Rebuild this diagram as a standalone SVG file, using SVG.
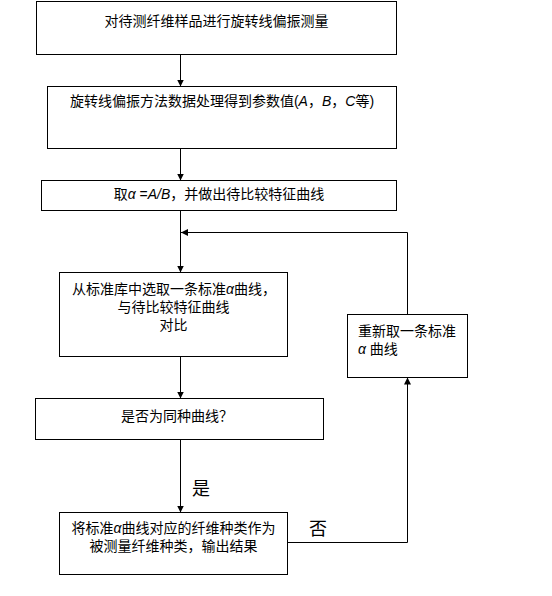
<svg xmlns="http://www.w3.org/2000/svg" width="552" height="596" viewBox="0 0 552 596">
<style>
.box{fill:#fff;stroke:#000;stroke-width:1}
.ln{fill:none;stroke:#000;stroke-width:1}
text{font-family:"Liberation Sans","Noto Sans CJK SC",sans-serif;font-size:14px;fill:#000}
.c{text-anchor:middle}
.i{font-style:italic}
.big{font-size:18px}
</style>
<defs>
<marker id="ah" markerUnits="userSpaceOnUse" markerWidth="8" markerHeight="8" refX="7" refY="3.5" orient="auto">
<path d="M0,0 L7,3.5 L0,7 z" fill="#000"/>
</marker>
</defs>
<rect width="552" height="596" fill="#fff"/>
<g id="connectors">
<line class="ln" x1="180.5" y1="54.5" x2="180.5" y2="86.5" marker-end="url(#ah)"/>
<line class="ln" x1="180.5" y1="148.5" x2="180.5" y2="180.5" marker-end="url(#ah)"/>
<line class="ln" x1="180.5" y1="210.5" x2="180.5" y2="272.5" marker-end="url(#ah)"/>
<line class="ln" x1="180.5" y1="356.5" x2="180.5" y2="398.5" marker-end="url(#ah)"/>
<line class="ln" x1="180.5" y1="439.5" x2="180.5" y2="512.5" marker-end="url(#ah)"/>
<polyline class="ln" points="287.5,542.5 407.5,542.5 407.5,377.5" marker-end="url(#ah)"/>
<polyline class="ln" points="407.5,314.5 407.5,232.5 181,232.5" marker-end="url(#ah)"/>
<text class="big" x="192" y="495">是</text>
<text class="big" x="309" y="535">否</text>
</g>
<g id="n1">
<rect class="box" x="36.5" y="1.5" width="360" height="53"/>
<text class="c" x="216.5" y="26">对待测纤维样品进行旋转线偏振测量</text>
</g>
<g id="n2">
<rect class="box" x="47.5" y="86.5" width="349" height="62"/>
<text class="c" x="222" y="106">旋转线偏振方法数据处理得到参数值(<tspan class="i">A</tspan>，<tspan class="i">B</tspan>，<tspan class="i">C</tspan>等)</text>
</g>
<g id="n3">
<rect class="box" x="41.5" y="180.5" width="355" height="30"/>
<text class="c" x="219" y="199">取<tspan class="i">α</tspan> =<tspan class="i">A/B</tspan>，并做出待比较特征曲线</text>
</g>
<g id="n4">
<rect class="box" x="59.5" y="272.5" width="228" height="84"/>
<text class="c" x="174" y="294">从标准库中选取一条标准<tspan class="i">α</tspan>曲线，</text>
<text class="c" x="173.5" y="312">与待比较特征曲线</text>
<text class="c" x="173.5" y="330">对比</text>
</g>
<g id="n5">
<rect class="box" x="35.5" y="398.5" width="288" height="41"/>
<text class="c" x="177" y="421">是否为同种曲线？</text>
</g>
<g id="n6">
<rect class="box" x="347.5" y="314.5" width="120" height="63"/>
<text x="358" y="336">重新取一条标准</text>
<text x="358" y="354"><tspan class="i">α</tspan> 曲线</text>
</g>
<g id="n7">
<rect class="box" x="59.5" y="512.5" width="228" height="62"/>
<text class="c" x="173.5" y="533">将标准<tspan class="i">α</tspan>曲线对应的纤维种类作为</text>
<text class="c" x="173.5" y="551">被测量纤维种类，输出结果</text>
</g>
</svg>
